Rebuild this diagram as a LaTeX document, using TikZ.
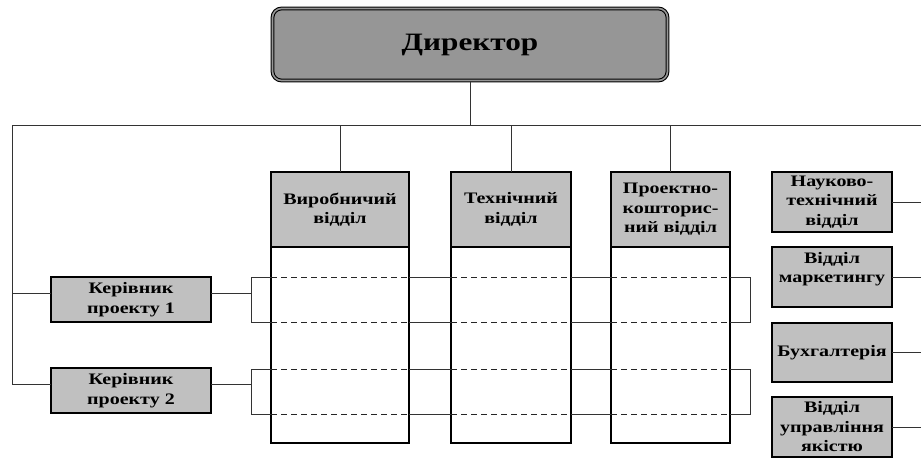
\documentclass[tikz,border=0pt]{standalone}
\usepackage{fontspec}
\setmainfont{Liberation Serif}[FakeStretch=1.25]
\begin{document}
\begin{tikzpicture}[x=1pt,y=-1pt,
  link/.style={draw=black!80,line width=0.9pt},
  dash line/.style={draw=black!85,line width=0.9pt,dash pattern=on 6pt off 4pt},
  dept/.style={draw=black,line width=1.8pt,fill=boxgray,align=center,inner sep=0pt,outer sep=0pt,
    font=\bfseries\fontsize{16}{19.5}\selectfont},
  unit/.style={dept,line width=1.3pt},
  column/.style={draw=black,line width=1.8pt,inner sep=0pt,outer sep=0pt},
  chief/.style={draw=black,fill=chiefgray,rounded corners=9pt,line width=1.1pt,
    double=chiefgray,double distance=1.6pt,align=center,
    font=\bfseries\fontsize{25}{30}\selectfont}]
\definecolor{boxgray}{HTML}{C0C0C0}
\definecolor{chiefgray}{HTML}{969696}
\useasboundingbox (0,0) rectangle (921,459);

% director
\node[chief,minimum width=395,minimum height=72] (dir) at (470,44.5) {Директор};

% main bus
\coordinate (busL) at (12,125);
\coordinate (busR) at (921,125);
\draw[link] (busL) -- (busR);
\draw[link] (dir.south) -- (dir.south |- busL);

% functional departments with their project columns
\node[dept,minimum width=138,minimum height=75] (v1) at (340,209.5) {Виробничий\\відділ};
\node[dept,minimum width=120,minimum height=75] (v2) at (511,209.5) {Технічний\\відділ};
\node[dept,minimum width=119,minimum height=75] (v3) at (670.5,209.5) {Проектно-\\кошторис-\\ний відділ};
\node[column,minimum width=138,minimum height=196,anchor=north] (c1) at (v1.south) {};
\node[column,minimum width=120,minimum height=196,anchor=north] (c2) at (v2.south) {};
\node[column,minimum width=119,minimum height=196,anchor=north] (c3) at (v3.south) {};
\foreach \v in {v1,v2,v3} \draw[link] (\v.north |- busL) -- (\v.north);

% project managers
\node[unit,minimum width=160,minimum height=45] (kp1) at (131,299.5) {Керівник\\проекту 1};
\node[unit,minimum width=160,minimum height=45] (kp2) at (131,390.5) {Керівник\\проекту 2};
\coordinate (kp1w) at ([yshift=6.5pt]kp1.west);
\coordinate (kp2w) at ([yshift=6.5pt]kp2.west);
\coordinate (kp1e) at ([yshift=6.5pt]kp1.east);
\coordinate (kp2e) at ([yshift=6.5pt]kp2.east);
\draw[link] (busL) |- (kp2w);
\draw[link] (busL |- kp1w) -- (kp1w);

% project rows across the columns
\coordinate (bl) at (251,0);
\coordinate (br) at (750,0);
\foreach \k/\t/\b in {kp1/277/322,kp2/369/414}{
  \coordinate (rt) at (0,\t);
  \coordinate (rb) at (0,\b);
  \draw[link] (\k e) -- (\k e -| bl);
  \draw[link] (c1.west |- rt) -| (bl |- rb) -- (c1.west |- rb);
  \draw[link] (c3.east |- rt) -| (br |- rb) -- (c3.east |- rb);
  \foreach \r in {rt,rb}{
    \draw[link] (c1.east |- \r) -- (c2.west |- \r);
    \draw[link] (c2.east |- \r) -- (c3.west |- \r);
    \foreach \c in {c1,c2,c3}
      \draw[dash line] (\c.west |- \r) -- (\c.east |- \r);
  }
}

% staff departments on the right
\coordinate (edge) at (921,0);
\node[dept,minimum width=120,minimum height=60] (r1) at (832,202) {Науково-\\технічний\\відділ};
\node[dept,minimum width=120,minimum height=60] (r2) at (832,277) {Відділ\\маркетингу\\~};
\node[dept,minimum width=120,minimum height=59] (r3) at (832,352.5) {Бухгалтерія};
\node[dept,minimum width=120,minimum height=60] (r4) at (832,427) {Відділ\\управління\\якістю};
\foreach \r in {r1,r2,r3,r4} \draw[link] (\r.east) -- (\r.east -| edge);
\end{tikzpicture}
\end{document}
